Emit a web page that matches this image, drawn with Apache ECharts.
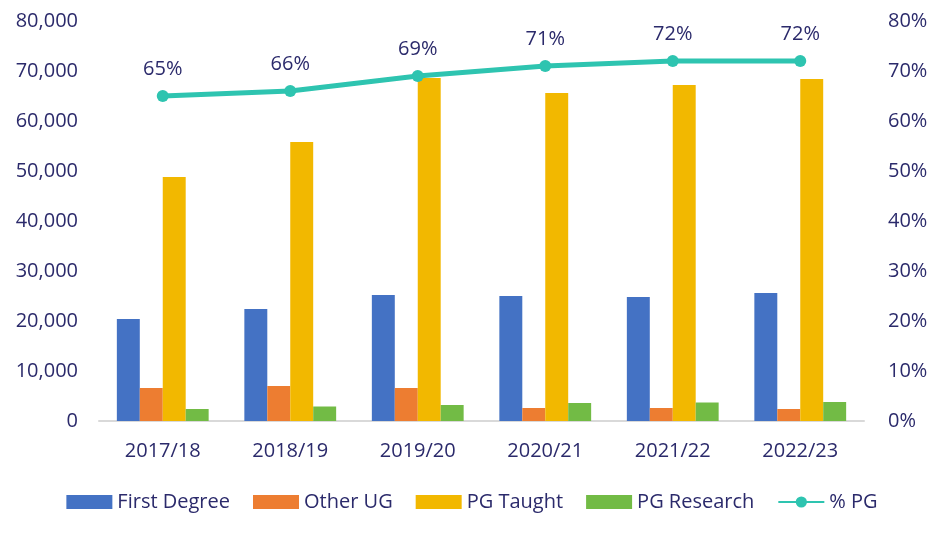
<!DOCTYPE html>
<html>
<head>
<meta charset="utf-8">
<script src="https://cdn.jsdelivr.net/npm/echarts@6/dist/echarts.min.js"></script>
<style>
  html, body { margin: 0; padding: 0; background: #fff; }
  #chart { width: 944px; height: 536px; }
</style>
</head>
<body>
<div id="chart"></div>
<script>
const years = ["2017/18", "2018/19", "2019/20", "2020/21", "2021/22", "2022/23"];
const firstDegree = [20400, 22400, 25200, 25000, 24800, 25600];
const otherUG = [6600, 7000, 6600, 2600, 2600, 2400];
const pgTaught = [48800, 55800, 68600, 65600, 67200, 68400];
const pgResearch = [2400, 2900, 3200, 3600, 3700, 3800];
const pctPG = [65, 66, 69, 71, 72, 72];

const textColor = "#2b2a6b";
const font = "Open Sans";

const chart = echarts.init(document.getElementById("chart"), null, { renderer: "canvas" });

const bar = (name, data, color) => ({
  name,
  type: "bar",
  data,
  barGap: "0%",
  barCategoryGap: "28%",
  itemStyle: { color },
});

chart.setOption({
  animation: false,
  textStyle: { fontFamily: font },
  grid: { left: 99, right: 80, top: 21, bottom: 115, containLabel: false },
  legend: {
    bottom: 19,
    left: "center",
    itemWidth: 46,
    itemHeight: 14,
    itemGap: 23,
    textStyle: { color: textColor, fontSize: 20, fontFamily: font },
    data: [
      { name: "First Degree", icon: "rect" },
      { name: "Other UG", icon: "rect" },
      { name: "PG Taught", icon: "rect" },
      { name: "PG Research", icon: "rect" },
      { name: "% PG" },
    ],
  },
  xAxis: {
    type: "category",
    data: years,
    axisLine: { lineStyle: { color: "#d9d9d9", width: 2 } },
    axisTick: { show: false },
    axisLabel: { color: textColor, fontSize: 20, margin: 20 },
  },
  yAxis: [
    {
      type: "value",
      min: 0,
      max: 80000,
      interval: 10000,
      axisLabel: {
        color: textColor,
        fontSize: 20,
        margin: 21,
        formatter: (v) => v.toLocaleString("en-GB"),
      },
      splitLine: { show: false },
      axisLine: { show: false },
    },
    {
      type: "value",
      min: 0,
      max: 80,
      interval: 10,
      axisLabel: { color: textColor, fontSize: 20, margin: 24, formatter: "{value}%" },
      splitLine: { show: false },
      axisLine: { show: false },
    },
  ],
  series: [
    bar("First Degree", firstDegree, "#4472c4"),
    bar("Other UG", otherUG, "#ed7d31"),
    bar("PG Taught", pgTaught, "#f2b800"),
    bar("PG Research", pgResearch, "#72bb45"),
    {
      name: "% PG",
      type: "line",
      yAxisIndex: 1,
      data: pctPG,
      symbol: "circle",
      symbolSize: 12,
      lineStyle: { color: "#2ec4b0", width: 5 },
      itemStyle: { color: "#2ec4b0" },
      label: {
        show: true,
        position: "top",
        distance: 11,
        color: textColor,
        fontSize: 20,
        formatter: "{c}%",
      },
    },
  ],
});
</script>
</body>
</html>
